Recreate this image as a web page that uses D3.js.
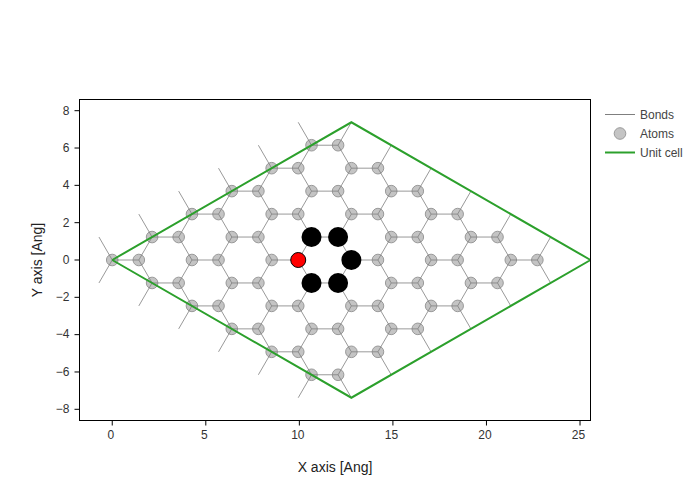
<!DOCTYPE html>
<html><head><meta charset="utf-8">
<script src="https://cdn.jsdelivr.net/npm/d3@7"></script>
<style>html,body{margin:0;padding:0;background:#fff}svg{display:block}text{font-family:"Liberation Sans",Arial,sans-serif}</style>
</head><body><svg id="c" width="700" height="500"></svg>
<script>
// Sublattice A atoms
const atomAX = [0,4.26,8.52,12.78,17.04,21.3, 2.13,6.39,10.65,14.91,19.17, 2.13,6.39,10.65,14.91,19.17, 4.26,8.52,12.78,17.04, 4.26,8.52,12.78,17.04, 6.39,10.65,14.91, 6.39,10.65,14.91, 8.52,12.78, 8.52,12.78, 10.65, 10.65];
const atomAY = [0,0,0,0,0,0, 1.23,1.23,1.23,1.23,1.23, -1.23,-1.23,-1.23,-1.23,-1.23, 2.46,2.46,2.46,2.46, -2.46,-2.46,-2.46,-2.46, 3.69,3.69,3.69, -3.69,-3.69,-3.69, 4.92,4.92, -4.92,-4.92, 6.15, -6.15];
// Sublattice B atoms
const atomBX = [1.42,5.68,9.94,14.2,18.46,22.72, 3.55,7.81,12.07,16.33,20.59, 3.55,7.81,12.07,16.33,20.59, 5.68,9.94,14.2,18.46, 5.68,9.94,14.2,18.46, 7.81,12.07,16.33, 7.81,12.07,16.33, 9.94,14.2, 9.94,14.2, 12.07, 12.07];
const atomBY = atomAY.slice();
// Bond vectors from each sublattice (Ang)
const bondDxA = [1.42,-0.71,-0.71];
const bondDyA = [0,1.23,-1.23];
const bondDxB = [-1.42,0.71,0.71];
const bondDyB = [0,1.23,-1.23];
// Unit cell outline
const cellX = [0,12.78,25.56,12.78,0];
const cellY = [0,7.38,0,-7.38,0];
// Highlighted atoms
const blackX = [10.65,12.07,12.78,12.07,10.65];
const blackY = [1.23,1.23,0,-1.23,-1.23];
const redX = [9.94];
const redY = [0];
// Ticks and labels
const xTicks = [0,5,10,15,20,25];
const yTicks = [-8,-6,-4,-2,0,2,4,6,8];
const xTitle = "X axis [Ang]";
const yTitle = "Y axis [Ang]";
const legendLabels = ["Bonds","Atoms","Unit cell"];

const L=79.5,R=590.5,T=99.5,B=420.5;
const x=d3.scaleLinear().domain([-1.75,25.56]).range([L,R]);
const y=d3.scaleLinear().domain([8.6,-8.6]).range([T,B]);
const svg=d3.select("#c");
svg.append("defs").append("clipPath").attr("id","plot").append("rect")
  .attr("x",L).attr("y",T).attr("width",R-L).attr("height",B-T);
const plot=svg.append("g").attr("clip-path","url(#plot)");
const line=d3.line().x(d=>x(d[0])).y(d=>y(d[1]));

const atoms=[...atomAX.map((v,i)=>[v,atomAY[i]]),...atomBX.map((v,i)=>[v,atomBY[i]])];
plot.append("g").selectAll("circle").data(atoms).join("circle")
  .attr("cx",d=>x(d[0])).attr("cy",d=>y(d[1])).attr("r",5.8)
  .attr("fill","#c4c4c4").attr("stroke","#999").attr("stroke-width",1);

const bonds=[];
atomAX.forEach((ax,i)=>bondDxA.forEach((dx,k)=>bonds.push([[ax,atomAY[i]],[ax+dx,atomAY[i]+bondDyA[k]]])));
atomBX.forEach((bx,i)=>bondDxB.forEach((dx,k)=>bonds.push([[bx,atomBY[i]],[bx+dx,atomBY[i]+bondDyB[k]]])));
const seen=new Set();
const uniqueBonds=bonds.filter(b=>{const k=[b[0].concat(b[1]),b[1].concat(b[0])].map(a=>a.map(v=>v.toFixed(2)).join()).sort()[0];
  if(seen.has(k))return false;seen.add(k);return true;});
plot.append("g").selectAll("path").data(uniqueBonds).join("path")
  .attr("d",line).attr("fill","none").attr("stroke","#808080").attr("stroke-opacity",0.8).attr("stroke-width",1);

plot.append("path").datum(d3.zip(cellX,cellY)).attr("d",line).attr("fill","none")
  .attr("stroke","#2ca02c").attr("stroke-width",2);

plot.append("g").selectAll("circle").data(d3.zip(blackX,blackY)).join("circle")
  .attr("cx",d=>x(d[0])).attr("cy",d=>y(d[1])).attr("r",10).attr("fill","#000");
plot.append("g").selectAll("circle").data(d3.zip(redX,redY)).join("circle")
  .attr("cx",d=>x(d[0])).attr("cy",d=>y(d[1])).attr("r",7.5).attr("fill","#ff0000").attr("stroke","#000").attr("stroke-width",1);

svg.append("rect").attr("x",L).attr("y",T).attr("width",R-L).attr("height",B-T)
  .attr("fill","none").attr("stroke","#000").attr("stroke-width",1);

const fmt=d=>String(d).replace("-","\u2212");
const gx=svg.append("g").attr("transform",`translate(0,${B})`)
  .call(d3.axisBottom(x).tickValues(xTicks).tickFormat(fmt).tickSize(5).tickPadding(5).offset(0));
const gy=svg.append("g").attr("transform",`translate(${L},0)`)
  .call(d3.axisLeft(y).tickValues(yTicks).tickFormat(fmt).tickSize(5).tickPadding(5).offset(0));
[gx,gy].forEach(g=>{g.select(".domain").remove();
  g.selectAll("text").attr("font-size",12).attr("fill","#333").style("font-family",'"Liberation Sans",Arial,sans-serif');
  g.selectAll("line").attr("stroke","#000");});
gx.selectAll("text").attr("dx",-1.5);

svg.append("text").attr("x",335).attr("y",472).attr("text-anchor","middle").attr("font-size",14).attr("fill","#222").text(xTitle);
svg.append("text").attr("transform","translate(42,260) rotate(-90)").attr("text-anchor","middle").attr("font-size",14).attr("fill","#222").text(yTitle);

const leg=svg.append("g");
const ly=[114.5,133.5,152.5];
leg.append("line").attr("x1",605).attr("x2",635).attr("y1",ly[0]).attr("y2",ly[0]).attr("stroke","#7f7f7f").attr("stroke-width",1);
leg.append("circle").attr("cx",620).attr("cy",ly[1]).attr("r",5.8).attr("fill","#c4c4c4").attr("stroke","#999").attr("stroke-width",1);
leg.append("line").attr("x1",605).attr("x2",635).attr("y1",ly[2]).attr("y2",ly[2]).attr("stroke","#2ca02c").attr("stroke-width",2);
leg.selectAll("text").data(legendLabels).join("text").attr("x",640).attr("y",(d,i)=>ly[i]+4.5)
  .attr("font-size",12).attr("fill","#444").text(d=>d);
</script></body></html>
